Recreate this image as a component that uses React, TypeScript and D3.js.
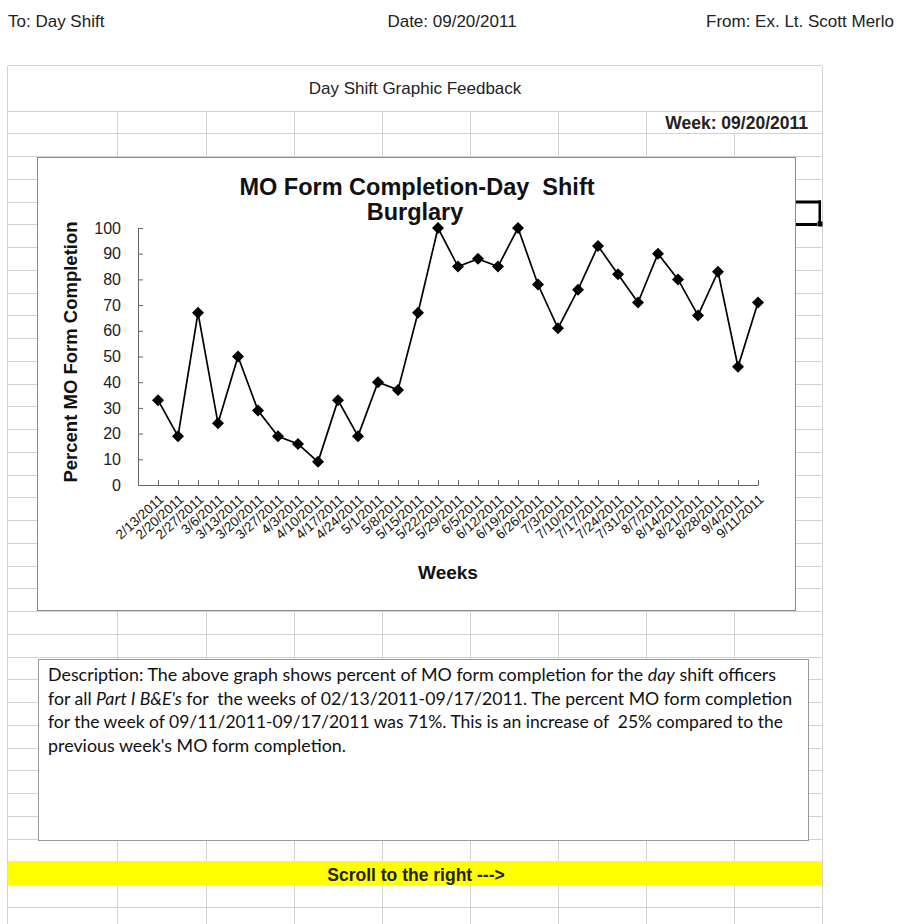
import React, { useRef, useEffect } from "react";
import * as d3 from "d3";

// weekly data
const weeks = [
  "2/13/2011", "2/20/2011", "2/27/2011", "3/6/2011", "3/13/2011", "3/20/2011", "3/27/2011",
  "4/3/2011", "4/10/2011", "4/17/2011", "4/24/2011", "5/1/2011", "5/8/2011", "5/15/2011",
  "5/22/2011", "5/29/2011", "6/5/2011", "6/12/2011", "6/19/2011", "6/26/2011", "7/3/2011",
  "7/10/2011", "7/17/2011", "7/24/2011", "7/31/2011", "8/7/2011", "8/14/2011", "8/21/2011",
  "8/28/2011", "9/4/2011", "9/11/2011",
];
const completion = [
  33, 19, 67, 24, 50, 29, 19, 16, 9, 33, 19, 40, 37, 67, 100, 85, 88, 85, 100, 78, 61,
  76, 93, 82, 71, 90, 80, 66, 83, 46, 71,
];
const yTicks = [0, 10, 20, 30, 40, 50, 60, 70, 80, 90, 100];

const descLines = [
  [{ t: "Description: The above graph shows percent of MO form completion for the " }, { t: "day", i: true }, { t: " shift officers" }],
  [{ t: "for all " }, { t: "Part I B&E's", i: true }, { t: " for  the weeks of 02/13/2011-09/17/2011. The percent MO form completion" }],
  [{ t: "for the week of 09/11/2011-09/17/2011 was 71%. This is an increase of  25% compared to the" }],
  [{ t: "previous week's MO form completion." }],
];
const descWidths = [728, 744, 735, 298];

const W = 897;
const H = 924;
const ARIAL = "'Liberation Sans', Arial, sans-serif";

const App = () => {
  const xAxisRef: any = useRef();
  const yAxisRef: any = useRef();

  // sheet grid
  const colX = [7.5, 117, 206, 294, 382, 470, 558, 646, 734, 822];
  const rowY = d3.range(0, 36).map((k) => 111 + k * 22.75);

  // plot area
  const x = d3.scaleLinear().domain([0, weeks.length]).range([138, 758]);
  const y = d3.scaleLinear().domain([0, 100]).range([485, 228]);

  const line = d3
    .line<number>()
    .x((d, i) => x(i + 1))
    .y((d) => y(d));
  const diamond = d3.symbol().type(d3.symbolSquare).size(72)();

  useEffect(() => {
    const gx = d3.select(xAxisRef.current);
    gx.selectAll("*").remove();
    gx.call(
      d3
        .axisBottom(x)
        .tickValues(d3.range(1, weeks.length + 1))
        .tickFormat((i: any) => weeks[i - 1])
        .tickSizeInner(-5)
        .tickSizeOuter(0)
    );
    gx.selectAll(".domain").attr("stroke", "#666");
    gx.selectAll(".tick line").attr("stroke", "#666");
    gx.selectAll(".tick text")
      .attr("x", null)
      .attr("y", null)
      .attr("dy", "0.35em")
      .attr("text-anchor", "end")
      .attr("transform", "translate(3,12) rotate(-42)")
      .attr("font-family", ARIAL)
      .attr("font-size", 13.5)
      .attr("fill", "#111");

    const gy = d3.select(yAxisRef.current);
    gy.selectAll("*").remove();
    gy.call(d3.axisLeft(y).tickValues(yTicks).tickSizeInner(-5).tickSizeOuter(0).tickPadding(17));
    gy.selectAll(".domain").attr("stroke", "#666");
    gy.selectAll(".tick line").attr("stroke", "#666");
    gy.selectAll(".tick text").attr("font-family", ARIAL).attr("font-size", 16).attr("fill", "#222");
  }, []);

  const gridColor = "#d2d2d2";

  return (
    <svg
      width={W}
      height={H}
      style={{ position: "absolute", left: 0, top: 0, background: "#fff" }}
    >
      {/* header */}
      <g fontFamily={ARIAL} fontSize={17} fill="#222">
        <text x={8} y={27}>To: Day Shift</text>
        <text x={452} y={27} textAnchor="middle">Date: 09/20/2011</text>
        <text x={706} y={27}>From: Ex. Lt. Scott Merlo</text>
      </g>

      {/* spreadsheet grid */}
      <g stroke={gridColor} strokeWidth={1} shapeRendering="crispEdges">
        <line x1={7.5} x2={822} y1={65.5} y2={65.5} />
        {rowY.map((ry, k) => (
          <line key={"h" + k} x1={7.5} x2={822} y1={ry} y2={ry} />
        ))}
        <line x1={7.5} x2={7.5} y1={65.5} y2={H} />
        <line x1={822} x2={822} y1={65.5} y2={H} />
        {colX.slice(1, -1).map((cx, k) => (
          <line key={"v" + k} x1={cx} x2={cx} y1={cx === 734 ? rowY[1] : rowY[0]} y2={H} />
        ))}
      </g>
      <g fontFamily={ARIAL} fill="#222">
        <text x={415} y={94} textAnchor="middle" fontSize={17}>Day Shift Graphic Feedback</text>
        <text x={808} y={129} textAnchor="end" fontSize={17.5} fontWeight="bold">Week: 09/20/2011</text>
      </g>

      {/* selected cell, mostly behind the chart */}
      <g fill="#000">
        <rect x={760} y={200.5} width={61} height={3} />
        <rect x={818.5} y={200.5} width={2.5} height={24} />
        <rect x={760} y={223} width={57} height={3} />
        <rect x={817.5} y={221.5} width={5} height={5} />
      </g>

      {/* chart object */}
      <rect x={37.5} y={157.5} width={758} height={453} fill="#fff" stroke="#8a8a8a" />
      <g fontFamily={ARIAL} fontWeight="bold" fill="#111" textAnchor="middle">
        <text x={417} y={195} fontSize={23.5} style={{ whiteSpace: "pre" }}>MO Form Completion-Day  Shift</text>
        <text x={415} y={220} fontSize={23.5}>Burglary</text>
        <text transform="translate(77,352) rotate(-90)" fontSize={18.5}>Percent MO Form Completion</text>
        <text x={448} y={579} fontSize={19}>Weeks</text>
      </g>
      <g ref={yAxisRef} transform="translate(138,0)" />
      <g ref={xAxisRef} transform="translate(0,485)" />
      <path d={line(completion) || ""} fill="none" stroke="#000" strokeWidth={1.7} />
      {completion.map((v, i) => (
        <path
          key={i}
          d={diamond || ""}
          transform={`translate(${x(i + 1)},${y(v)}) rotate(45)`}
          fill="#000"
        />
      ))}

      {/* description text box */}
      <rect x={38.5} y={659.5} width={770} height={181} fill="#fff" stroke="#9a9a9a" />
      <g fontFamily="Lato, 'Open Sans', sans-serif" fontSize={16.5} fill="#111">
        {descLines.map((parts, k) => (
          <text
            key={k}
            x={48}
            y={681 + k * 23.5}
            textLength={descWidths[k]}
            lengthAdjust="spacingAndGlyphs"
            style={{ whiteSpace: "pre" }}
          >
            {parts.map((p: any, j) => (
              <tspan key={j} fontStyle={p.i ? "italic" : "normal"}>{p.t}</tspan>
            ))}
          </text>
        ))}
      </g>

      {/* yellow banner */}
      <rect x={7.5} y={861} width={814.5} height={24} fill="#ffff00" />
      <text x={416} y={881} textAnchor="middle" fontFamily={ARIAL} fontWeight="bold" fontSize={17.5} fill="#222">
        Scroll to the right ---&gt;
      </text>
    </svg>
  );
};

export default App;
